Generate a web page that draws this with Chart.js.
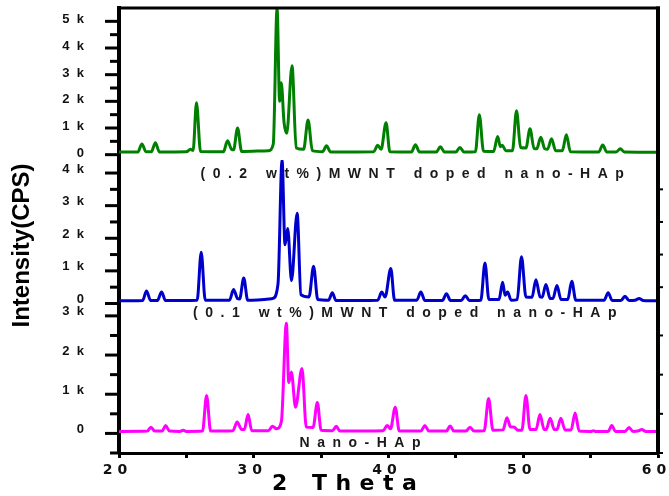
<!DOCTYPE html>
<html>
<head>
<meta charset="utf-8">
<title>XRD patterns</title>
<script src="https://cdn.jsdelivr.net/npm/chart.js@4"></script>
<style>
  html, body { margin: 0; padding: 0; background: #fff; }
</style>
</head>
<body>
<canvas id="xrdChart" width="669" height="496"></canvas>
<script>
// [2theta, counts] pairs for each pattern
var mwnt02Pattern = [
  [20.0,100],[21.4,100],[21.7,400],[22.0,110],[22.4,110],[22.7,450],[23.0,100],
  [25.0,110],[25.3,200],[25.5,160],[25.75,1950],[26.05,120],[27.75,110],[28.05,520],
  [28.35,200],[28.5,180],[28.8,1000],[29.1,120],[31.1,150],[31.45,400],[31.73,5500],
  [31.92,2000],[32.04,2700],[32.25,1200],[32.45,800],[32.84,3330],[33.15,250],[33.7,200],
  [34.03,1300],[34.35,150],[35.1,110],[35.4,330],[35.7,100],[38.9,110],[39.2,350],
  [39.45,200],[39.82,1200],[40.1,110],[41.7,100],[42.0,370],[42.3,100],[43.55,100],
  [43.85,300],[44.15,100],[45.0,100],[45.3,270],[45.6,100],[46.45,110],[46.74,1500],
  [47.05,130],[47.8,120],[48.1,680],[48.3,300],[48.45,350],[48.7,150],[49.2,150],
  [49.5,1650],[49.8,270],[50.2,250],[50.5,970],[50.8,230],[51.0,220],[51.3,650],
  [51.6,220],[51.8,200],[52.1,600],[52.4,150],[52.9,150],[53.2,750],[53.5,110],
  [55.6,100],[55.9,360],[56.2,100],[56.9,100],[57.2,220],[57.5,100],[60.0,90]
];
var mwnt01Pattern = [
  [20.0,80],[21.75,90],[22.04,380],[22.35,90],[22.85,90],[23.16,350],[23.45,90],
  [25.8,100],[26.1,1570],[26.4,100],[28.2,100],[28.5,430],[28.8,150],[28.95,140],
  [29.26,780],[29.55,100],[31.4,150],[31.8,600],[32.1,4400],[32.32,1800],[32.52,2300],
  [32.8,700],[33.22,2770],[33.5,270],[34.1,200],[34.44,1140],[34.75,120],[35.55,100],
  [35.83,330],[36.1,90],[39.2,100],[39.5,350],[39.75,200],[40.17,1070],[40.45,100],
  [42.1,100],[42.4,350],[42.7,90],[44.0,90],[44.3,300],[44.6,90],[45.4,90],[45.7,240],
  [46.0,90],[46.85,100],[47.16,1240],[47.45,120],[48.2,120],[48.47,650],[48.65,250],
  [48.84,350],[49.1,100],[49.55,120],[49.87,1430],[50.2,200],[50.65,190],[50.94,730],
  [51.25,200],[51.4,190],[51.68,580],[52.0,150],[52.2,150],[52.5,550],[52.8,120],
  [53.3,120],[53.6,680],[53.9,100],[56.0,100],[56.3,330],[56.6,90],[57.25,90],
  [57.55,220],[57.85,90],[58.3,100],[58.6,150],[58.9,90],[60.0,80]
];
var hapPattern = [
  [20.0,50],[22.1,60],[22.37,160],[22.65,60],[23.2,60],[23.46,200],[23.75,60],
  [24.5,50],[24.77,80],[25.0,50],[26.2,60],[26.5,970],[26.8,60],[28.45,70],[28.77,290],
  [29.1,100],[29.3,100],[29.58,480],[29.85,70],[31.1,70],[31.38,180],[31.7,120],
  [32.05,300],[32.42,2810],[32.6,1300],[32.79,1570],[33.1,670],[33.58,1660],[33.9,160],
  [34.4,150],[34.72,790],[35.0,80],[35.85,70],[36.12,180],[36.4,60],[39.6,70],[39.9,200],
  [40.15,120],[40.5,670],[40.8,60],[42.4,60],[42.7,200],[43.0,60],[44.3,60],[44.57,190],
  [44.85,60],[45.75,60],[46.05,160],[46.35,60],[47.1,70],[47.43,890],[47.75,80],
  [48.5,90],[48.79,400],[49.05,170],[49.33,160],[49.6,80],[49.9,80],[50.2,970],
  [50.5,100],[50.95,100],[51.24,480],[51.55,100],[51.7,100],[52.0,390],[52.3,100],
  [52.5,100],[52.79,390],[53.1,90],[53.55,90],[53.85,520],[54.15,60],[55.0,50],
  [55.2,70],[55.4,50],[56.3,50],[56.57,200],[56.85,50],[57.55,50],[57.85,150],
  [58.15,50],[58.5,60],[58.8,100],[59.1,50],[60.0,50]
];

var seriesNames = ['(0.2 wt%)MWNT doped nano-HAp', '(0.1 wt%)MWNT doped nano-HAp', 'Nano-HAp'];
var thetaTicks = [20, 25, 30, 35, 40, 45, 50, 55, 60];
var topTicks = [0, 500, 1000, 1500, 2000, 2500, 3000, 3500, 4000, 4500, 5000];
var midTicks = [0, 500, 1000, 1500, 2000, 2500, 3000, 3500, 4000];
var lowTicks = [-500, 0, 500, 1000, 1500, 2000, 2500, 3000];

function toPoints(pairs) {
  return pairs.map(function(p) { return {x: p[0], y: p[1]}; });
}

function kLabel(v) {
  if (v % 1000 !== 0) return '';
  return v === 0 ? '0' : (v / 1000) + '  k';
}

var tickFont = {family: '"Liberation Sans", Arial, sans-serif', size: 13, weight: 'bold'};

// one y axis per pattern, stacked on the left side
function panelAxis(ticks, min, max, order, share, labelShift) {
  return {
    type: 'linear',
    position: 'left',
    stack: 'xrd',
    stackWeight: share,
    weight: order,
    min: min,
    max: max,
    afterBuildTicks: function(s) { s.ticks = ticks.map(function(v) { return {value: v}; }); },
    afterFit: function(s) { s.width = 119; s.paddingTop = 0; s.paddingBottom = 0; },
    grid: {display: false, drawTicks: false},
    border: {display: true, color: '#000', width: 4},
    ticks: {color: '#111', font: tickFont, padding: 35, labelOffset: labelShift,
            autoSkip: false, callback: kLabel}
  };
}

function spaced(ctx, text, px) {
  if ('letterSpacing' in ctx) { ctx.letterSpacing = px + 'px'; return text; }
  return text.split('').join(' ');
}

var framePlugin = {
  id: 'framePlugin',
  afterDraw: function(chart) {
    var ctx = chart.ctx, area = chart.chartArea, xs = chart.scales.x;
    ctx.save();
    ctx.strokeStyle = '#000';
    ctx.lineWidth = 3;
    ctx.beginPath(); ctx.moveTo(area.left, area.top); ctx.lineTo(area.right + 2, area.top); ctx.stroke();
    ctx.lineWidth = 4;
    ctx.beginPath(); ctx.moveTo(area.right, area.top - 1.5); ctx.lineTo(area.right, area.bottom + 1.5); ctx.stroke();

    // long ticks at each thousand, short ones in between
    ['yTop', 'yMid', 'yLow'].forEach(function(id) {
      var s = chart.scales[id];
      s.ticks.forEach(function(t) {
        var y = s.getPixelForValue(t.value);
        var len = t.value % 1000 === 0 ? 14 : 9;
        ctx.lineWidth = 3;
        ctx.beginPath(); ctx.moveTo(area.left - len, y); ctx.lineTo(area.left, y); ctx.stroke();
        if (id !== 'yTop' && t.value % 1000 !== 0) {
          ctx.lineWidth = 2;
          ctx.beginPath(); ctx.moveTo(area.right, y); ctx.lineTo(area.right + 5, y); ctx.stroke();
        }
      });
    });

    // pattern names under each trace
    ctx.fillStyle = '#1a1a1a';
    ctx.textBaseline = 'middle';
    ctx.textAlign = 'left';
    ctx.font = 'bold 14px "Liberation Sans", Arial, sans-serif';
    var spots = [[26.05, 'yTop', -720], [25.5, 'yMid', -290], [33.4, 'yLow', -240]];
    spots.forEach(function(sp, i) {
      var txt = spaced(ctx, seriesNames[i], 7.5);
      ctx.fillText(txt, xs.getPixelForValue(sp[0]), chart.scales[sp[1]].getPixelForValue(sp[2]));
    });

    // axis titles
    ctx.fillStyle = '#000';
    ctx.font = 'bold 22px "DejaVu Sans", sans-serif';
    ctx.fillText(spaced(ctx, '2 Theta', 8.5), xs.getPixelForValue(31.35), area.bottom + 31);
    if ('letterSpacing' in ctx) ctx.letterSpacing = '0px';
    ctx.font = 'bold 24px "Liberation Sans", Arial, sans-serif';
    ctx.translate(22, (area.top + area.bottom) / 2 + 15);
    ctx.rotate(-Math.PI / 2);
    ctx.textAlign = 'center';
    ctx.fillText('Intensity(CPS)', 0, 0);
    ctx.restore();
  }
};

var lineStyle = {borderWidth: 3, pointRadius: 0, cubicInterpolationMode: 'monotone', fill: false};

new Chart(document.getElementById('xrdChart'), {
  type: 'line',
  data: {
    datasets: [
      Object.assign({label: seriesNames[0], data: toPoints(mwnt02Pattern), borderColor: '#008000', yAxisID: 'yTop'}, lineStyle),
      Object.assign({label: seriesNames[1], data: toPoints(mwnt01Pattern), borderColor: '#0000cc', yAxisID: 'yMid'}, lineStyle),
      Object.assign({label: seriesNames[2], data: toPoints(hapPattern), borderColor: '#ff00ff', yAxisID: 'yLow'}, lineStyle)
    ]
  },
  options: {
    responsive: false,
    animation: false,
    events: [],
    layout: {padding: {top: 8, right: 11, left: 0, bottom: 0}},
    plugins: {legend: {display: false}, tooltip: {enabled: false}},
    scales: {
      x: {
        type: 'linear',
        position: 'bottom',
        min: 20,
        max: 60,
        afterBuildTicks: function(s) { s.ticks = thetaTicks.map(function(v) { return {value: v}; }); },
        afterFit: function(s) { s.height = 43; s.paddingLeft = 0; s.paddingRight = 0; },
        grid: {display: true, drawOnChartArea: false, drawTicks: true, tickLength: 5, tickWidth: 3, tickColor: '#000'},
        border: {display: true, color: '#000', width: 3},
        ticks: {
          color: '#111',
          font: {family: '"DejaVu Sans", sans-serif', size: 14, weight: 'bold'},
          padding: 4,
          labelOffset: -4,
          maxRotation: 0,
          autoSkip: false,
          callback: function(v) { return v % 10 === 0 ? String(v).split('').join(' ') : ''; }
        }
      },
      yTop: panelAxis(topTicks, -200, 5500, 3, 152, -1.5),
      yMid: panelAxis(midTicks, -200, 4400, 2, 150, -4),
      yLow: panelAxis(lowTicks, -500, 3150, 1, 143, -4)
    }
  },
  plugins: [framePlugin]
});
</script>
</body>
</html>
